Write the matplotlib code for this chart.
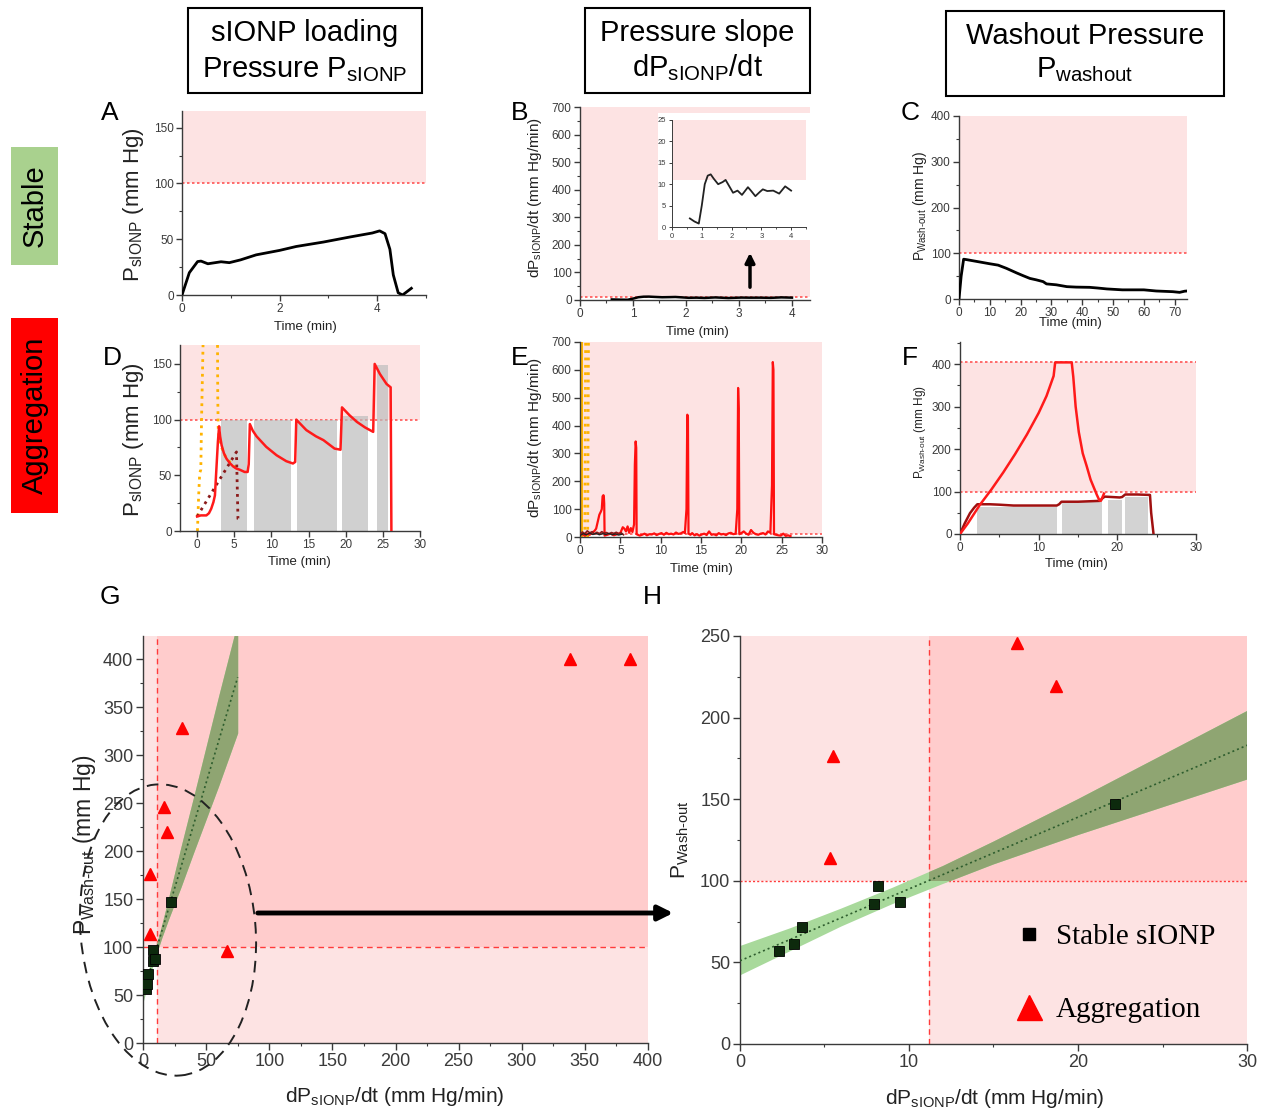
import matplotlib
matplotlib.use('Agg')
import matplotlib.pyplot as plt
from matplotlib.patches import Rectangle, Ellipse, FancyArrowPatch
from matplotlib.ticker import MultipleLocator
from matplotlib.lines import Line2D
from matplotlib.transforms import IdentityTransform

# ---------------- data ----------------
# A: stable loading pressure
a_time = [0, 0.15, 0.32, 0.39, 0.53, 0.8, 0.97, 1.2, 1.52, 2.0, 2.34, 2.9, 3.44, 3.9, 4.05, 4.16, 4.26, 4.33, 4.43, 4.52, 4.7]
a_press = [0, 20, 30, 30.4, 28, 29.8, 29, 31.5, 36, 40, 43.5, 47.5, 52, 55.6, 57.5, 55, 41, 18, 2, 0, 6]

# B: stable pressure slope (main + inset)
b_time = [0.6, 0.75, 0.9, 1.0, 1.1, 1.2, 1.3, 1.4, 1.55, 1.7, 1.8, 1.95, 2.05, 2.2, 2.35, 2.55, 2.65, 2.8, 2.95, 3.05, 3.2, 3.4, 3.6, 3.8, 4.0]
b_slope = [2, 1.3, 0.8, 5, 10, 12, 12.3, 11.3, 10, 10.5, 11, 9.2, 8, 8.5, 7.5, 9.3, 8.5, 7.2, 8.2, 8.8, 8.4, 8.5, 7.8, 9.5, 8.5]

# C: stable washout pressure
c_time = [0, 0.7, 1.5, 2.5, 5, 7.5, 10, 12.7, 15.4, 18.7, 20.8, 23, 25, 27.3, 28.4, 30, 31.6, 35, 38, 42.4, 45, 48, 53, 60, 64, 69.4, 71.6, 73.2, 74]
c_press = [0, 50, 87, 86, 83, 80, 77, 74, 67, 57, 51, 45, 42, 38, 33, 32, 31, 27, 26, 25.5, 24, 22, 20, 20, 17.5, 16, 14.5, 17, 17.5]

# D: aggregation loading pressure
d_time = [0, 0.5, 1.25, 1.6, 1.9, 2.2, 2.4, 2.6, 2.8, 2.96, 3.1, 3.3, 3.6, 3.95, 4.4, 4.85, 5.3, 5.75, 6.4, 6.8, 6.95, 7.1, 7.5, 8.0, 9.3, 10.7, 12.0, 12.9, 13.2, 13.35, 14.7, 16.0, 17.0, 18.5, 19.3, 19.5, 20.5, 21.5, 22.6, 23.7, 23.9, 24.6, 25.5, 26.05, 26.15]
d_press = [13, 14, 14, 16, 20, 26, 32, 56, 80, 94, 85, 77, 70, 65, 61, 58, 56, 55, 53, 53, 60, 96, 90, 85, 75.6, 68, 62.7, 60.6, 62, 100, 90.6, 85, 81.6, 74, 73, 111, 104, 98, 93, 89, 150, 141, 132, 129, 0]
d_orange1_t = [0.05, 0.2, 0.35, 0.5, 0.6, 0.8]
d_orange1_p = [0, 30, 52, 55, 100, 167]
d_orange2_t = [2.75, 2.78, 2.85, 3.0, 3.3, 3.8, 4.4, 5.0, 5.6]
d_orange2_p = [167, 120, 90, 82, 75, 67, 62, 58, 55]
d_dark_t = [0, 5.3, 5.5, 5.95]
d_dark_p = [13, 71, 11, 9]
d_bar_start = [3.28, 7.63, 13.47, 19.44, 24.25]
d_bar_end = [6.74, 12.7, 18.77, 23.03, 25.73]
d_bar_height = [100, 100, 100, 103, 149]

# E: aggregation pressure slope
e_red = [(0.3, 10), (0.6, 5), (0.9, 12), (1.2, 8), (1.5, 15), (1.8, 22), (2.0, 30), (2.2, 55), (2.4, 80),
         (2.5, 86), (2.6, 92), (2.7, 100), (2.8, 146), (2.9, 150), (2.95, 148), (3.0, 120), (3.05, 5),
         (3.4, 8), (3.8, 12), (4.2, 6), (4.6, 10), (5.0, 14), (5.3, 35), (5.5, 30), (5.7, 20), (5.9, 38),
         (6.1, 15), (6.3, 32), (6.5, 18), (6.7, 45), (6.8, 260), (6.9, 343), (6.97, 320), (7.02, 10),
         (7.4, 5), (7.7, 8), (8.0, 12), (8.3, 6), (8.6, 10), (8.9, 9), (9.2, 13), (9.5, 7), (9.8, 11),
         (10.1, 14), (10.4, 8), (10.7, 15), (11.0, 10), (11.3, 12), (11.6, 9), (11.9, 16), (12.2, 11),
         (12.5, 13), (12.8, 18), (13.0, 14), (13.2, 100), (13.3, 439), (13.38, 430), (13.45, 12),
         (13.7, 8), (13.9, 14), (14.2, 6), (14.5, 10), (14.8, 5), (15.1, 9), (15.4, 12), (15.7, 7),
         (16.0, 20), (16.3, 8), (16.6, 10), (16.9, 6), (17.2, 14), (17.5, 9), (17.8, 11), (18.1, 7),
         (18.4, 13), (18.7, 15), (19.0, 10), (19.3, 12), (19.5, 100), (19.6, 535), (19.68, 460),
         (19.75, 10), (20.0, 14), (20.3, 20), (20.6, 12), (20.9, 8), (21.2, 25), (21.5, 15), (21.8, 10),
         (22.1, 8), (22.4, 12), (22.7, 14), (23.0, 9), (23.3, 20), (23.6, 15), (23.8, 185), (23.9, 628),
         (23.98, 600), (24.05, 10), (24.3, 8), (24.6, 6), (24.9, 5), (25.2, 12), (25.5, 4), (25.8, 6),
         (26.1, 3)]
e_dark = [(0.0, 8), (0.3, 18), (0.6, 12), (0.9, 22), (1.2, 15), (1.5, 19), (1.8, 11), (2.1, 17), (2.4, 12),
          (2.7, 19), (3.0, 14), (3.3, 16), (3.6, 11), (3.9, 16), (4.2, 13), (4.5, 17), (4.8, 12), (5.1, 15),
          (5.4, 8)]
e_black = [(0.0, 5), (0.4, 12), (0.8, 8), (1.2, 14), (1.6, 9), (2.0, 13), (2.4, 8), (2.8, 12), (3.2, 9),
           (3.6, 13), (4.0, 8), (4.4, 11), (4.8, 7), (5.2, 10)]
e_orange_solid = [(0.15, 0), (0.15, 700)]
e_orange_dot1 = [(0.6, 0), (0.7, 700)]
e_orange_dot2 = [(0.95, 0), (1.05, 700)]

# F: aggregation washout pressure
f_dark = [(0, 0), (0.6, 25), (1.27, 49), (1.8, 62), (2.2, 70), (3.8, 70), (5, 69), (6.8, 67), (9, 67), (12.3, 67),
          (12.6, 70), (12.9, 76), (15, 76), (17.8, 78), (18.1, 84), (18.4, 88), (20.3, 86), (20.6, 87),
          (21.0, 93), (22.5, 93), (24.15, 92), (24.3, 50), (24.6, 0)]
f_red = [(0, 0), (1.0, 25), (2.5, 68), (4, 105), (5.5, 145), (7, 188), (8.5, 234), (10, 285), (11, 325),
         (11.9, 372), (12.1, 404), (14.2, 404), (14.4, 370), (14.7, 300), (15.1, 240), (15.6, 190),
         (16.1, 160), (16.6, 128), (17.0, 110), (17.4, 92), (17.7, 80), (17.9, 78), (18.05, 84), (18.3, 95)]
f_bar_start = [2.2, 13.0, 18.85, 21.0]
f_bar_end = [12.3, 18.0, 20.6, 23.9]
f_bar_height = [64, 76, 80, 88]

# G / H: washout pressure vs slope
stable_x = [2.33, 3.17, 3.67, 7.92, 8.14, 9.46, 22.17]
stable_y = [56.7, 61.2, 71.4, 85.7, 96.9, 87.3, 147.3]
agg_x = [5.5, 5.32, 16.4, 18.7, 30.5, 66.5, 338.5, 385.5]
agg_y = [176.5, 113.7, 246, 219.4, 328, 96, 400, 400]
fit_x = [0, 75]
fit_y = [51, 381]
band_x = [0, 3, 6, 9, 12, 15, 20, 25, 30, 40, 50, 60, 75]
band_hi = [60, 71, 83, 95.6, 109, 124, 150, 177, 204, 256, 309, 362, 439]
band_lo = [42, 57, 72, 85.6, 98, 110, 128, 145, 162, 198, 233, 268, 323]
thr_slope = 11.2
thr_press = 100

# ---------------- style ----------------
plt.rcParams['font.family'] = ['Liberation Sans', 'DejaVu Sans']
plt.rcParams['mathtext.fontset'] = 'custom'
plt.rcParams['mathtext.rm'] = 'Liberation Sans'
plt.rcParams['mathtext.it'] = 'Liberation Sans:italic'
plt.rcParams['mathtext.bf'] = 'Liberation Sans:bold'
plt.rcParams['mathtext.default'] = 'rm'

W, H = 1265, 1112
fig = plt.figure(figsize=(W / 100, H / 100), dpi=100)

PINK = '#fde3e3'
DPINK = '#ffcccc'
RDOT = '#ff5555'
GREY = '#3a3a3a'


def rect(l, t, r, b):
    return [l / W, 1 - b / H, (r - l) / W, (b - t) / H]


def fpt(x, y):
    return (x / W, 1 - y / H)


def style(ax, xmaj, xmin, ymaj, ymin, fs):
    for s in ('top', 'right'):
        ax.spines[s].set_visible(False)
    for s in ('left', 'bottom'):
        ax.spines[s].set_color(GREY)
        ax.spines[s].set_linewidth(1.0)
    ax.xaxis.set_major_locator(MultipleLocator(xmaj))
    ax.yaxis.set_major_locator(MultipleLocator(ymaj))
    if xmin:
        ax.xaxis.set_minor_locator(MultipleLocator(xmin))
    if ymin:
        ax.yaxis.set_minor_locator(MultipleLocator(ymin))
    ax.tick_params(which='major', direction='out', length=4, width=1, colors=GREY, labelsize=fs, pad=2)
    ax.tick_params(which='minor', direction='out', length=2.5, width=0.8, colors=GREY)
    ax.set_facecolor('none')


def ftext(x, y, s, **kw):
    fig.text(x / W, 1 - y / H, s, **kw)


def unz(pts):
    return [p[0] for p in pts], [p[1] for p in pts]


lab_kw = dict(ha='center', va='center', color='#222222')

# ---- A ----
axA = fig.add_axes(rect(182, 111, 426, 295))
axA.axhspan(100, 165, color=PINK, lw=0, zorder=0)
axA.axhline(100, color=RDOT, ls=(0, (1.5, 1.5)), lw=1.2, zorder=1)
axA.plot(a_time, a_press, color='black', lw=2, zorder=3)
axA.set_xlim(0, 5)
axA.set_ylim(0, 165)
style(axA, 2, 1, 50, 25, 8.5)
ftext(133, 205, r'P$_{\rm sIONP}$ (mm Hg)', rotation=90, fontsize=16, **lab_kw)
ftext(305, 327, 'Time (min)', fontsize=9.5, **lab_kw)

# ---- B ----
axB = fig.add_axes(rect(580, 107, 810, 300))
axB.axhspan(11, 700, color=PINK, lw=0, zorder=0)
axB.axhline(11, color=RDOT, ls=(0, (1.5, 1.5)), lw=1.2, zorder=1)
axB.plot(b_time, b_slope, color='black', lw=1.8, zorder=3)
axB.set_xlim(0, 4.34)
axB.set_ylim(0, 700)
style(axB, 1, 0.5, 100, 50, 8.5)
ftext(535, 197, r'dP$_{\rm sIONP}$/dt (mm Hg/min)', rotation=90, fontsize=11, **lab_kw)
ftext(697, 332, 'Time (min)', fontsize=9.5, **lab_kw)

fig.add_artist(Rectangle(fpt(658, 240), 152 / W, 127 / H, transform=fig.transFigure,
                         facecolor='white', edgecolor='none', zorder=1))
axBi = fig.add_axes(rect(672, 120, 806, 227))
axBi.set_zorder(2)
axBi.axhspan(11, 25, color=PINK, lw=0, zorder=0)
axBi.plot(b_time, b_slope, color='#222222', lw=1.3, zorder=3)
axBi.set_xlim(0, 4.5)
axBi.set_ylim(0, 25)
style(axBi, 1, 0.5, 5, None, 5.5)
axBi.tick_params(which='major', length=2.5, width=0.7)
axBi.tick_params(which='minor', length=1.5, width=0.6)
for s in ('left', 'bottom'):
    axBi.spines[s].set_linewidth(0.7)

fig.add_artist(FancyArrowPatch(fpt(750, 290), fpt(750, 250), transform=fig.transFigure,
                               arrowstyle='-|>', mutation_scale=14, lw=2.5, color='black', zorder=3))

# ---- C ----
axC = fig.add_axes(rect(959, 116, 1187, 299))
axC.axhspan(100, 400, color=PINK, lw=0, zorder=0)
axC.axhline(100, color=RDOT, ls=(0, (1.5, 1.5)), lw=1.2, zorder=1)
axC.plot(c_time, c_press, color='black', lw=2, zorder=3)
axC.set_xlim(0, 74)
axC.set_ylim(0, 400)
style(axC, 10, 5, 100, 50, 8.5)
ftext(920, 206, r'P$_{\text{Wash-out}}$ (mm Hg)', rotation=90, fontsize=10, **lab_kw)
ftext(1070, 323, 'Time (min)', fontsize=9.5, **lab_kw)

# ---- D ----
axD = fig.add_axes(rect(180, 345, 420, 531))
axD.axhspan(100, 167, color=PINK, lw=0, zorder=0)
axD.axhline(100, color=RDOT, ls=(0, (1.5, 1.5)), lw=1.2, zorder=1)
axD.bar(d_bar_start, d_bar_height, width=[e - s for s, e in zip(d_bar_start, d_bar_end)],
        align='edge', color='#bdbdbd', alpha=0.7, lw=0, zorder=1.5)
axD.plot(d_orange1_t, d_orange1_p, color='#ffb300', ls=':', lw=2, zorder=2)
axD.plot(d_orange2_t, d_orange2_p, color='#ffb300', ls=':', lw=2, zorder=2)
axD.plot(d_dark_t, d_dark_p, color='#8b1a1a', ls=':', lw=2, zorder=2)
axD.plot(d_time, d_press, color='#ff1a1a', lw=1.8, zorder=3)
axD.set_xlim(-2.3, 30)
axD.set_ylim(0, 167)
style(axD, 5, None, 50, 25, 8.5)
ftext(133, 440, r'P$_{\rm sIONP}$ (mm Hg)', rotation=90, fontsize=16, **lab_kw)
ftext(299, 562, 'Time (min)', fontsize=9.5, **lab_kw)

# ---- E ----
axE = fig.add_axes(rect(580, 342, 822, 537))
axE.axhspan(11, 700, color=PINK, lw=0, zorder=0)
axE.axhline(11, color=RDOT, ls=(0, (1.5, 1.5)), lw=1.2, zorder=1)
t, v = unz(e_orange_solid)
axE.plot(t, v, color='#ffb300', lw=2.2, zorder=2)
t, v = unz(e_orange_dot1)
axE.plot(t, v, color='#ffb300', ls=':', lw=2, zorder=2)
t, v = unz(e_orange_dot2)
axE.plot(t, v, color='#ffb300', ls=':', lw=2, zorder=2)
t, v = unz(e_red)
axE.plot(t, v, color='#ff1010', lw=1.6, zorder=3)
t, v = unz(e_dark)
axE.plot(t, v, color='#8b1a1a', lw=1.2, zorder=3)
t, v = unz(e_black)
axE.plot(t, v, color='#222222', lw=1.0, zorder=3)
axE.set_xlim(0, 30)
axE.set_ylim(0, 700)
style(axE, 5, None, 100, None, 8.5)
ftext(535, 437, r'dP$_{\rm sIONP}$/dt (mm Hg/min)', rotation=90, fontsize=11, **lab_kw)
ftext(701, 569, 'Time (min)', fontsize=9.5, **lab_kw)

# ---- F ----
axF = fig.add_axes(rect(960, 342, 1196, 534))
axF.axhspan(100, 405, color=PINK, lw=0, zorder=0)
axF.axhline(100, color=RDOT, ls=(0, (1.5, 1.5)), lw=1.2, zorder=1)
axF.axhline(405, color=RDOT, ls=(0, (1.5, 1.5)), lw=1.2, zorder=1)
axF.bar(f_bar_start, f_bar_height, width=[e - s for s, e in zip(f_bar_start, f_bar_end)],
        align='edge', color='#d3d3d3', lw=0, zorder=1.5)
t, v = unz(f_dark)
axF.plot(t, v, color='#a01010', lw=1.8, zorder=3)
t, v = unz(f_red)
axF.plot(t, v, color='#ff1a1a', lw=1.8, zorder=3)
axF.set_xlim(0, 30)
axF.set_ylim(0, 452)
style(axF, 10, 5, 100, 50, 8.5)
ftext(920, 432, r'P$_{\text{Wash-out}}$ (mm Hg)', rotation=90, fontsize=8.5, **lab_kw)
ftext(1076, 564, 'Time (min)', fontsize=9.5, **lab_kw)


# ---- G & H ----
def scatter_panel(ax, xmax, ymax, hline_ls):
    ax.add_patch(Rectangle((0, 0), xmax, ymax, facecolor=PINK, edgecolor='none', zorder=0))
    ax.add_patch(Rectangle((0, 0), thr_slope, thr_press, facecolor='white', edgecolor='none', zorder=0.1))
    ax.add_patch(Rectangle((thr_slope, thr_press), xmax - thr_slope, ymax - thr_press,
                           facecolor=DPINK, edgecolor='none', zorder=0.1))
    ax.axvline(thr_slope, color='#ff3b3b', ls=(0, (4, 3)), lw=1.0, zorder=1)
    ax.axhline(thr_press, color='#ff3b3b', ls=hline_ls, lw=1.0, zorder=1)
    ax.fill_between(band_x, band_lo, band_hi, color='#a8d99b', lw=0, zorder=2)
    olive = ax.fill_between(band_x, band_lo, band_hi, color='#8fa572', lw=0, zorder=2.1)
    clip = Rectangle((thr_slope, thr_press), xmax - thr_slope, ymax - thr_press, transform=ax.transData)
    olive.set_clip_path(clip)
    ax.plot(fit_x, fit_y, color='#2e5d2e', ls=(0, (1.2, 1.8)), lw=1.2, zorder=3)
    ax.plot(stable_x, stable_y, ls='', marker='s', ms=7, mfc='#0d2a0d', mec='black', mew=0.6, zorder=4)
    ax.plot(agg_x, agg_y, ls='', marker='^', ms=8.5, mfc='#ff0000', mec='#ff0000', zorder=4)
    ax.set_xlim(0, xmax)
    ax.set_ylim(0, ymax)


axG = fig.add_axes(rect(143, 636, 648, 1043))
scatter_panel(axG, 400, 424, (0, (4, 3)))
style(axG, 50, 25, 50, 25, 13)
axG.tick_params(which='major', length=5)
ftext(85, 845, r'P$_{\text{Wash-out}}$ (mm Hg)', rotation=90, fontsize=16.5, **lab_kw)
ftext(395, 1096, r'dP$_{\rm sIONP}$/dt (mm Hg/min)', fontsize=15, **lab_kw)

axH = fig.add_axes(rect(740, 636, 1247, 1044))
scatter_panel(axH, 30, 250, (0, (1.5, 1.5)))
style(axH, 10, 5, 50, 25, 13)
axH.tick_params(which='major', length=5)
ftext(680, 840, r'P$_{\text{Wash-out}}$', rotation=90, fontsize=15, **lab_kw)
ftext(995, 1098, r'dP$_{\rm sIONP}$/dt (mm Hg/min)', fontsize=15, **lab_kw)

handles = [Line2D([], [], ls='', marker='s', ms=9, mfc='black', mec='black'),
           Line2D([], [], ls='', marker='^', ms=18, mfc='#ff0000', mec='#ff0000')]
axH.legend(handles, ['Stable sIONP', 'Aggregation'], loc='lower right',
           bbox_to_anchor=fpt(1215, 1023), bbox_transform=fig.transFigure,
           frameon=False, borderpad=0, borderaxespad=0, labelspacing=1.58, handletextpad=0.3,
           handlelength=1.2, prop={'family': ['Liberation Serif', 'DejaVu Serif'], 'size': 21})

# ellipse and connecting arrow
ell = Ellipse((168, H - 930), 175, 292, angle=5, transform=IdentityTransform(),
              fill=False, edgecolor='#222222', ls=(0, (6, 4)), lw=1.4, zorder=5)
fig.add_artist(ell)
fig.add_artist(FancyArrowPatch(fpt(255, 913), fpt(676, 913), transform=fig.transFigure,
                               arrowstyle='-|>', mutation_scale=22, lw=3.5, color='black', zorder=5))

# ---- panel letters ----
for letter, (x, y) in {'A': (110, 113), 'B': (520, 113), 'C': (910, 113), 'D': (112, 358),
                       'E': (520, 358), 'F': (910, 358), 'G': (110, 597), 'H': (652, 597)}.items():
    ftext(x, y, letter, fontsize=19, ha='center', va='center', color='black')

# ---- header boxes ----
headers = [((188, 8, 422, 93), 'sIONP loading', r'Pressure P$_{\rm sIONP}$', 33, 70),
           ((585, 8, 810, 93), 'Pressure slope', r'dP$_{\rm sIONP}$/dt', 33, 68),
           ((946, 11, 1224, 96), 'Washout Pressure', r'P$_{\rm washout}$', 36, 70)]
for (l, t, r, b), line1, line2, y1, y2 in headers:
    fig.add_artist(Rectangle(fpt(l, b), (r - l) / W, (b - t) / H, transform=fig.transFigure,
                             facecolor='white', edgecolor='black', lw=1.5))
    cx = (l + r) / 2
    ftext(cx, y1, line1, fontsize=21, ha='center', va='center', color='black')
    ftext(cx, y2, line2, fontsize=21, ha='center', va='center', color='black')

# ---- row labels ----
for (l, t, r, b), col, txt in [((11, 147, 58, 265), '#a9d18e', 'Stable'),
                               ((11, 318, 58, 513), '#ff0000', 'Aggregation')]:
    fig.add_artist(Rectangle(fpt(l, b), (r - l) / W, (b - t) / H, transform=fig.transFigure,
                             facecolor=col, edgecolor='none'))
    ftext((l + r) / 2, (t + b) / 2, txt, rotation=90, fontsize=21, ha='center', va='center', color='black')

fig.savefig('out.png', dpi=100)
